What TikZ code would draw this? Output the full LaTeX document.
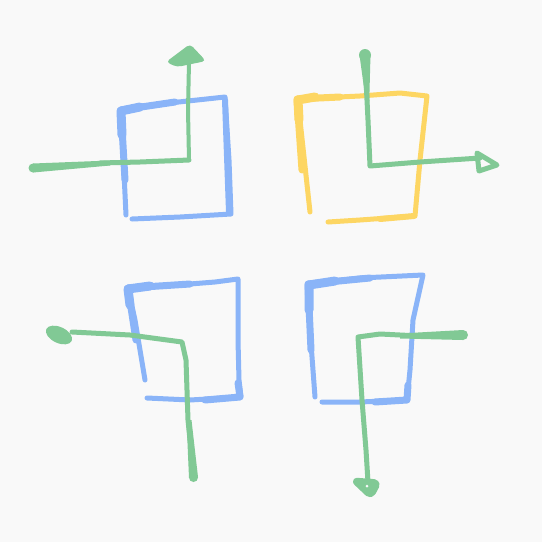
\documentclass[tikz,border=0pt]{standalone}
\definecolor{bgc}{HTML}{F9F9F9}
\definecolor{bl}{HTML}{8AB4F8}
\definecolor{gr}{HTML}{81C995}
\definecolor{ye}{HTML}{FDD663}
\begin{document}
\begin{tikzpicture}[x=1pt,y=-1pt,line cap=round,line join=round,
  stroke/.style={line width=5pt},
  midstroke/.style={line width=7pt},
  thickstroke/.style={line width=9pt}]
\fill[bgc] (0,0) rectangle (542,542);
\useasboundingbox (0,0) rectangle (542,542);
% ---------- top-left ----------
\draw[bl,stroke] (126,215) -- (121,110) -- (160,104) -- (225,97) -- (229,160) -- (231,214) -- (180,217) -- (132,219);
\draw[bl,midstroke] (125,180) -- (121,110) -- (175,102);
\draw[bl,thickstroke] (122,135) -- (121,111) -- (140,107);
\draw[bl,line width=6pt] (229,212) -- (225,100);
\fill[gr] (33,163.5) -- (110,160.5) -- (110,165.5) -- (33,172.5) -- cycle;
\fill[gr] (33,168) circle (4.5);
\draw[gr,stroke] (100,163) -- (140,162) -- (189,160);
\draw[gr,line width=4pt] (189,160) -- (188,110) -- (189,62);
\fill[gr,rounded corners=4pt] (190,44) -- (206,61) -- (177,67) -- (166,62) -- cycle;
% ---------- top-right ----------
\draw[ye,stroke] (310,212) -- (300,120) -- (297,99) -- (360,96) -- (400,93) -- (427,96) -- (420,160) -- (415,216) -- (360,220) -- (328,222);
\draw[ye,midstroke] (302,170) -- (297,99) -- (340,97);
\draw[ye,thickstroke] (299,120) -- (298,100) -- (315,97);
\draw[ye,line width=6pt] (414,216) -- (380,219);
\draw[gr,stroke] (366,80) -- (368,120) -- (370,166) -- (420,162) -- (480,158);
\fill[gr] (359.5,55) -- (370.5,55) -- (369,110) -- (367,110) -- cycle;
\fill[gr] (365,55) circle (6);
\draw[gr,line width=5pt] (477,153) -- (497,165) -- (479,171) -- cycle;
% ---------- bottom-left ----------
\draw[bl,stroke] (145,380) -- (135,320) -- (128,288) -- (190,284) -- (215,282) -- (238,279) -- (238,340) -- (239,380) -- (241,397) -- (190,400) -- (147,398);
\draw[bl,midstroke] (136,340) -- (128,288) -- (190,284);
\draw[bl,thickstroke] (130,305) -- (128,289) -- (150,286);
\draw[bl,line width=7pt] (238,383) -- (240,397) -- (205,400);
\draw[gr,stroke] (72,332) -- (130,335) -- (182,342) -- (186,360) -- (188,420) -- (190,440);
\fill[gr] (186.5,420) -- (189,478) -- (198,477) -- (191.5,420) -- cycle;
\fill[gr] (193.5,477.5) circle (4.5);
\fill[gr,rotate around={-25:(59,335)}] (59,335) ellipse (14 and 8);
% ---------- bottom-right ----------
\draw[bl,stroke] (315,397) -- (310,330) -- (308,284) -- (360,278) -- (423,275) -- (413,320) -- (410,370) -- (407,400) -- (360,402) -- (322,402);
\draw[bl,midstroke] (311,350) -- (308,284) -- (370,278);
\draw[bl,thickstroke] (309,310) -- (309,285) -- (335,281);
\draw[bl,line width=7pt] (408,385) -- (407,400) -- (375,402);
\draw[gr,stroke] (420,336) -- (380,334) -- (358,337) -- (362,400) -- (366,450) -- (368,482);
\fill[gr] (400,333.5) -- (463,330) -- (463,340) -- (400,338.5) -- cycle;
\fill[gr] (463,335) circle (5);
\filldraw[gr,line width=5pt,rounded corners=5pt] (353,480) -- (379,482) -- (371,497) -- cycle;
\fill[bgc] (367,486) circle (1.5);
\end{tikzpicture}
\end{document}
